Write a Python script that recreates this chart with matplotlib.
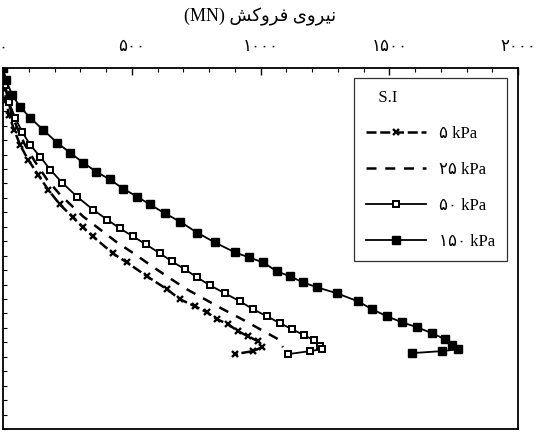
# -*- coding: utf-8 -*-
# pull-out force vs depth curves for four surcharge levels (S.I)
import matplotlib
matplotlib.use("Agg")
import matplotlib.pyplot as plt
from matplotlib.ticker import MultipleLocator

plt.rcParams['font.family'] = ['Liberation Serif', 'DejaVu Sans']

# force (MN) and depth (axis units) for each surcharge
force_5 = [0, 4, 12, 23, 43, 66, 97, 136, 175, 221, 272, 311, 349, 427, 481, 559,
           637, 687, 746, 792, 831, 874, 913, 951, 990, 1006, 971, 901]
depth_5 = [0, 1.17, 2.21, 3.25, 4.28, 5.32, 6.35, 7.39, 8.43, 9.46, 10.36, 11.05,
           11.67, 12.85, 13.47, 14.43, 15.33, 16.02, 16.51, 16.92, 17.40, 17.75,
           18.23, 18.58, 18.92, 19.34, 19.61, 19.82]

force_25 = [0, 8, 19, 35, 58, 85, 124, 171, 221, 311, 377, 443, 513, 579, 648,
            714, 784, 854, 928, 998, 1068, 1087]
depth_25 = [0, 1.17, 2.21, 3.25, 4.28, 5.32, 6.49, 7.73, 8.77, 10.29, 11.19,
            12.09, 12.91, 13.74, 14.57, 15.33, 16.02, 16.71, 17.40, 18.09,
            18.78, 19.34]

force_50 = [0, 8, 23, 47, 74, 105, 144, 183, 229, 287, 349, 404, 454, 505, 555,
            610, 656, 707, 753, 804, 862, 920, 971, 1025, 1076, 1122, 1169, 1208,
            1231, 1239, 1192, 1107]
depth_50 = [0, 1.17, 2.35, 3.45, 4.42, 5.32, 6.15, 7.04, 7.94, 8.91, 9.81, 10.50,
            11.12, 11.67, 12.22, 12.85, 13.40, 13.95, 14.50, 15.06, 15.61, 16.16,
            16.71, 17.20, 17.68, 18.09, 18.51, 18.85, 19.27, 19.48, 19.61, 19.82]

force_150 = [0, 12, 35, 66, 105, 155, 210, 260, 311, 361, 415, 466, 520, 571, 629,
             687, 753, 823, 901, 955, 1010, 1064, 1114, 1165, 1219, 1297, 1378,
             1433, 1491, 1549, 1608, 1666, 1716, 1743, 1767, 1705, 1588]
depth_150 = [0, 0.83, 1.86, 2.69, 3.45, 4.28, 5.18, 5.87, 6.56, 7.18, 7.73, 8.36,
             8.91, 9.46, 10.08, 10.64, 11.40, 12.09, 12.78, 13.12, 13.47, 14.09,
             14.43, 14.85, 15.19, 15.61, 16.16, 16.71, 17.20, 17.61, 17.96, 18.37,
             18.78, 19.20, 19.48, 19.61, 19.75]

labels = ['۵ kPa', '۲۵ kPa', '۵۰ kPa', '۱۵۰ kPa']
xticks = [0, 500, 1000, 1500, 2000]
xtick_labels = ['۰', '۵۰۰', '۱۰۰۰', '۱۵۰۰', '۲۰۰۰']
# "نیروی فروکش (MN)" written in presentation forms, visual order
xlabel = '(MN) \uFEB6\uFB90\uFEED\uFEAE\uFED3 \uFBFC\uFEED\uFEAE\uFBFF\uFEE7'

fig = plt.figure(figsize=(5.45, 4.32), dpi=100)
ax = fig.add_axes([0.0055, 0.007, 0.945, 0.836])

ax.plot(force_5, depth_5, color='black', linestyle=(0, (4, 1.5)), linewidth=1.8,
        marker='x', markersize=5, markeredgewidth=1.7, label=labels[0])
ax.plot(force_25, depth_25, color='black', linestyle=(0, (4, 3.5)), linewidth=1.8,
        label=labels[1])
ax.plot(force_50, depth_50, color='black', linestyle='-', linewidth=1.3,
        marker='s', markersize=4.3, markerfacecolor='white', markeredgewidth=1.4,
        label=labels[2])
ax.plot(force_150, depth_150, color='black', linestyle='-', linewidth=1.3,
        marker='s', markersize=5.6, markerfacecolor='black', label=labels[3])

ax.set_xlim(0, 2000)
ax.set_ylim(25, 0)

ax.xaxis.tick_top()
ax.xaxis.set_label_position('top')
ax.set_xticks(xticks)
ax.set_xticklabels(xtick_labels, fontsize=12)
ax.xaxis.set_minor_locator(MultipleLocator(100))
ax.tick_params(axis='x', which='major', direction='in', length=5, width=1, pad=9)
ax.tick_params(axis='x', which='minor', direction='in', length=3, width=0.8)
ax.set_xlabel(xlabel, fontsize=13, labelpad=13)

ax.yaxis.set_major_locator(MultipleLocator(5))
ax.yaxis.set_minor_locator(MultipleLocator(1))
ax.tick_params(axis='y', which='both', direction='in', left=True, right=False,
               labelleft=False, length=3, width=0.8)

for side in ax.spines.values():
    side.set_linewidth(1.3)

leg = ax.legend(title='   S.I', loc='upper right', bbox_to_anchor=(0.979, 0.972),
                borderaxespad=0, fontsize=12, title_fontsize=12, frameon=True,
                fancybox=False, edgecolor='black', numpoints=1, handlelength=3.6,
                labelspacing=1.2, borderpad=0.7, alignment='left')
leg.get_frame().set_linewidth(0.9)

plt.savefig('out.png', dpi=100)
